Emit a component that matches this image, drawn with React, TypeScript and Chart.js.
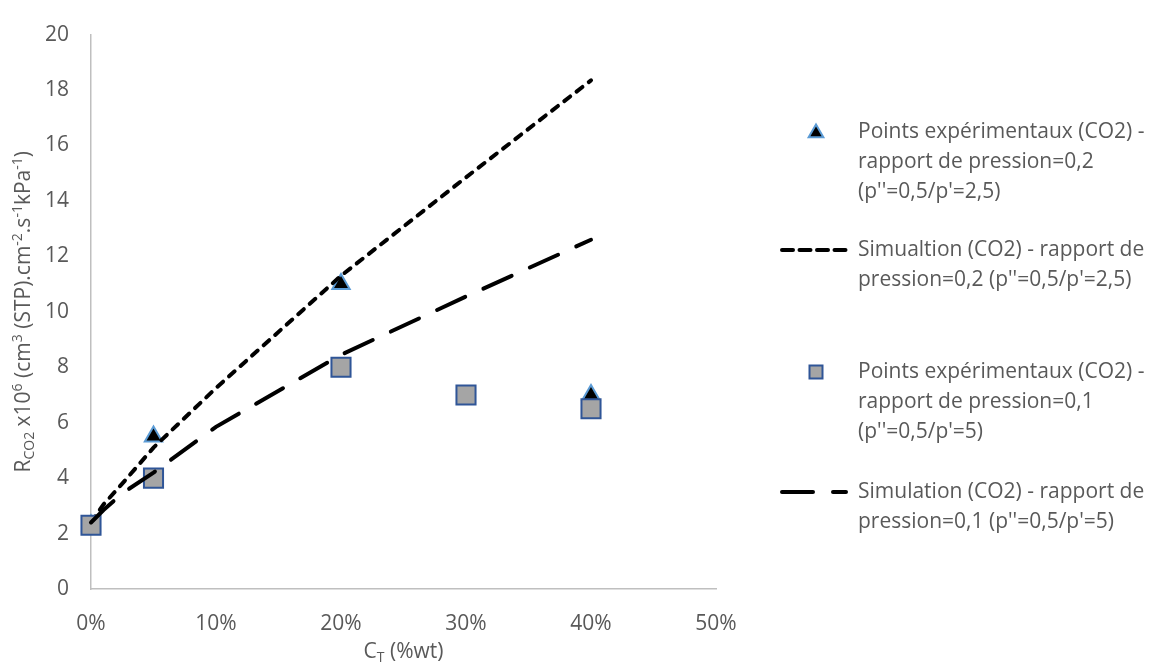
import React, { useEffect, useRef } from 'react';
import { Chart, registerables } from 'chart.js';

Chart.register(...registerables);

// ---- Data ----
const xTriangles = [0, 0.05, 0.2, 0.4];
const yTriangles = [2.3, 5.5, 11, 7];

const xSquares = [0, 0.05, 0.2, 0.3, 0.4];
const ySquares = [2.3, 4, 8, 7, 6.5];

const xSim = [0, 0.01, 0.025, 0.05, 0.1, 0.2, 0.3, 0.4];
const ySim02 = [2.4, 3.05, 3.8, 5.1, 7.25, 11.3, 14.85, 18.35];
const ySim01 = [2.4, 2.85, 3.45, 4.2, 5.85, 8.45, 10.55, 12.6];

const legendLabels = [
  ["Points expérimentaux (CO2) -", "rapport de pression=0,2", "(p''=0,5/p'=2,5)"],
  ["Simualtion (CO2) - rapport de", "pression=0,2 (p''=0,5/p'=2,5)"],
  ["Points expérimentaux (CO2) -", "rapport de pression=0,1", "(p''=0,5/p'=5)"],
  ["Simulation (CO2) - rapport de", "pression=0,1 (p''=0,5/p'=5)"],
];

type Part = { t: string; mode?: 'sub' | 'sup' };
const xTitleParts: Part[] = [{ t: 'C' }, { t: 'T', mode: 'sub' }, { t: ' (%wt)' }];
const yTitleParts: Part[] = [
  { t: 'R' }, { t: 'CO2', mode: 'sub' }, { t: ' x10' }, { t: '6', mode: 'sup' },
  { t: ' (cm' }, { t: '3', mode: 'sup' }, { t: ' (STP).cm' }, { t: '-2', mode: 'sup' },
  { t: '.s' }, { t: '-1', mode: 'sup' }, { t: 'kPa' }, { t: '-1', mode: 'sup' }, { t: ')' },
];

const FONT = "'Open Sans'";
const TEXT = '#595959';
const FS = 21;
const SFS = 14;

function drawParts(ctx: CanvasRenderingContext2D, parts: Part[], cx: number, baseline: number) {
  let total = 0;
  const widths = parts.map((p) => {
    ctx.font = `${p.mode ? SFS : FS}px ${FONT}`;
    const w = ctx.measureText(p.t).width;
    total += w;
    return w;
  });
  let x = cx - total / 2;
  ctx.textAlign = 'left';
  ctx.textBaseline = 'alphabetic';
  parts.forEach((p, i) => {
    ctx.font = `${p.mode ? SFS : FS}px ${FONT}`;
    const dy = p.mode === 'sub' ? 4 : p.mode === 'sup' ? -8 : 0;
    ctx.fillText(p.t, x, baseline + dy);
    x += widths[i];
  });
}

function drawTriangle(ctx: CanvasRenderingContext2D, x: number, y: number, r: number) {
  ctx.beginPath();
  let rad = 0;
  ctx.moveTo(x + Math.sin(rad) * r, y - Math.cos(rad) * r);
  rad += (2 * Math.PI) / 3;
  ctx.lineTo(x + Math.sin(rad) * r, y - Math.cos(rad) * r);
  rad += (2 * Math.PI) / 3;
  ctx.lineTo(x + Math.sin(rad) * r, y - Math.cos(rad) * r);
  ctx.closePath();
  ctx.fillStyle = '#000000';
  ctx.fill();
  ctx.lineWidth = 2;
  ctx.strokeStyle = '#5B9BD5';
  ctx.stroke();
}

const overlayPlugin = {
  id: 'overlay',
  afterDraw(chart: any) {
    const ctx: CanvasRenderingContext2D = chart.ctx;
    const area = chart.chartArea;
    ctx.save();
    ctx.fillStyle = TEXT;
    // x axis title
    drawParts(ctx, xTitleParts, (area.left + area.right) / 2, 657.5);
    // y axis title
    ctx.save();
    ctx.translate(22, (area.top + area.bottom) / 2);
    ctx.rotate(-Math.PI / 2);
    ctx.fillStyle = TEXT;
    drawParts(ctx, yTitleParts, 0, 7.5);
    ctx.restore();

    // legend
    const entryY = [132, 250, 372, 492];
    const markerX = 816;
    const textX = 858;
    const lineH = 30;
    legendLabels.forEach((lines, i) => {
      const y0 = entryY[i];
      if (i === 0) {
        drawTriangle(ctx, markerX, y0 + 1, 8.5);
      } else if (i === 2) {
        ctx.fillStyle = '#A5A5A5';
        ctx.fillRect(markerX - 6.5, y0 - 6.5, 13, 13);
        ctx.lineWidth = 2;
        ctx.strokeStyle = '#2F5597';
        ctx.strokeRect(markerX - 6.5, y0 - 6.5, 13, 13);
      } else {
        ctx.save();
        ctx.beginPath();
        ctx.lineWidth = 4;
        ctx.lineCap = 'round';
        ctx.strokeStyle = '#000000';
        ctx.setLineDash(i === 1 ? [11, 6.5] : [31, 20]);
        ctx.moveTo(782, y0);
        ctx.lineTo(846, y0);
        ctx.stroke();
        ctx.restore();
      }
      ctx.fillStyle = TEXT;
      ctx.font = `${FS}px ${FONT}`;
      ctx.textAlign = 'left';
      ctx.textBaseline = 'middle';
      lines.forEach((ln, j) => ctx.fillText(ln, textX, y0 + j * lineH));
    });
    ctx.restore();
  },
};

export default function App() {
  const ref = useRef<HTMLCanvasElement>(null);
  useEffect(() => {
    const canvas = ref.current;
    if (!canvas) return;
    const chart = new Chart(canvas, {
      type: 'scatter',
      data: {
        datasets: [
          {
            label: legendLabels[0].join(' '),
            data: xTriangles.map((x, i) => ({ x, y: yTriangles[i] })),
            pointStyle: 'triangle',
            pointRadius: 10,
            pointBackgroundColor: '#000000',
            pointBorderColor: '#5B9BD5',
            pointBorderWidth: 2,
            showLine: false,
            clip: false,
            order: 4,
          },
          {
            label: legendLabels[1].join(' '),
            data: xSim.map((x, i) => ({ x, y: ySim02[i] })),
            showLine: true,
            borderColor: '#000000',
            borderWidth: 4,
            borderDash: [7.5, 8],
            borderCapStyle: 'round',
            pointRadius: 0,
            tension: 0,
            clip: false,
            order: 3,
          },
          {
            label: legendLabels[2].join(' '),
            data: xSquares.map((x, i) => ({ x, y: ySquares[i] })),
            pointStyle: 'rect',
            pointRadius: 13.5,
            pointBackgroundColor: '#A5A5A5',
            pointBorderColor: '#2F5597',
            pointBorderWidth: 2,
            showLine: false,
            clip: false,
            order: 2,
          },
          {
            label: legendLabels[3].join(' '),
            data: xSim.map((x, i) => ({ x, y: ySim01[i] })),
            showLine: true,
            borderColor: '#000000',
            borderWidth: 4,
            borderDash: [31, 20],
            borderCapStyle: 'round',
            pointRadius: 0,
            tension: 0,
            clip: false,
            order: 1,
          },
        ] as any,
      },
      options: {
        animation: false,
        responsive: true,
        maintainAspectRatio: false,
        events: [],
        layout: { padding: { left: 0, right: 435, top: 23, bottom: 0 } },
        plugins: { legend: { display: false }, tooltip: { enabled: false } },
        scales: {
          x: {
            type: 'linear',
            min: 0,
            max: 0.5,
            ticks: {
              stepSize: 0.1,
              padding: 22,
              color: TEXT,
              font: { size: FS, family: FONT },
              callback: (v: any) => Math.round(Number(v) * 100) + '%',
            },
            grid: { display: false, drawTicks: false, tickLength: 0 },
            border: { display: true, color: '#BFBFBF', width: 1.5 },
            afterFit: (s: any) => { s.height = 82; },
          },
          y: {
            type: 'linear',
            min: 0,
            max: 20,
            ticks: {
              stepSize: 2,
              padding: 22,
              color: TEXT,
              font: { size: FS, family: FONT },
            },
            grid: { display: false, drawTicks: false, tickLength: 0 },
            border: { display: true, color: '#BFBFBF', width: 1.5 },
            afterFit: (s: any) => { s.width = 91; },
          },
        },
      } as any,
      plugins: [overlayPlugin],
    });
    return () => chart.destroy();
  }, []);
  return (
    <div style={{ position: 'fixed', left: 0, top: 0, width: 1151, height: 671, background: '#ffffff' }}>
      <canvas ref={ref} />
    </div>
  );
}
